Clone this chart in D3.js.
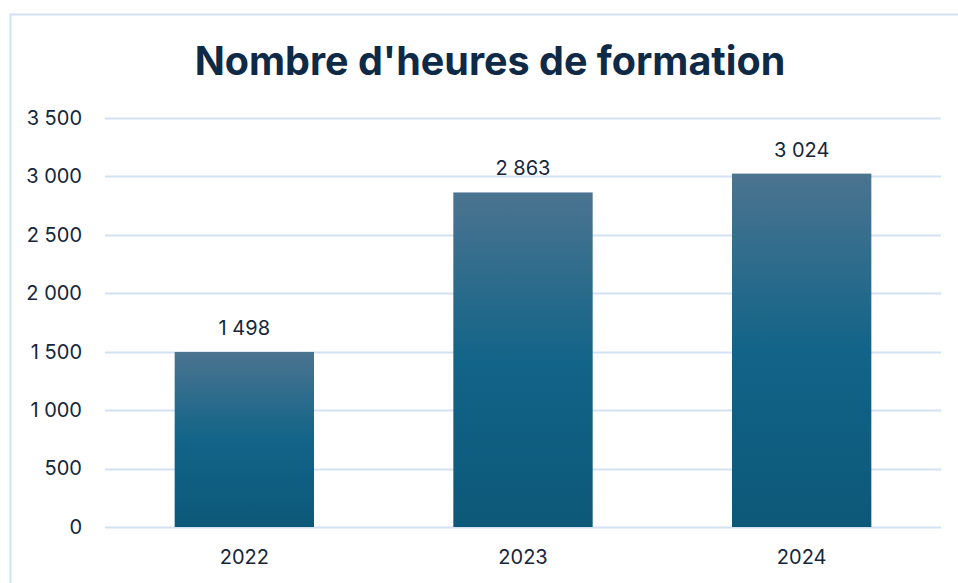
<!DOCTYPE html>
<html>
<head>
<meta charset="utf-8">
<script src="https://cdn.jsdelivr.net/npm/d3@7"></script>
<style>
  body { margin: 0; background: #fff; }
  svg { display: block; }
  text { font-family: Inter, "Open Sans", sans-serif; fill: #15263b; }
</style>
</head>
<body>
<svg id="chart" width="958" height="583"></svg>
<script>
// data
var years = ['2022', '2023', '2024'];
var hours = [1498, 2863, 3024];
var yTicks = [0, 500, 1000, 1500, 2000, 2500, 3000, 3500];

var width = 958, height = 583;
var margin = { top: 118, right: 17, bottom: 56, left: 105 };

var svg = d3.select('#chart');

// frame (left + top only are visible)
svg.append('path')
    .attr('d', 'M10.5,' + height + 'V14.5H' + width)
    .style('fill', 'none')
    .style('stroke', '#d3e2f3')
    .style('stroke-width', 2);

// gradient for bars
var grad = svg.append('defs').append('linearGradient')
    .attr('id', 'barGrad')
    .attr('x1', 0).attr('y1', 0).attr('x2', 0).attr('y2', 1);
grad.append('stop').attr('offset', '0%').attr('stop-color', '#4b7490');
grad.append('stop').attr('offset', '50%').attr('stop-color', '#126488');
grad.append('stop').attr('offset', '100%').attr('stop-color', '#0c5879');

var x = d3.scaleBand()
    .domain(years)
    .range([margin.left, width - margin.right])
    .paddingInner(0.5)
    .paddingOuter(0.25);

var y = d3.scaleLinear()
    .domain([0, 3500])
    .range([height - margin.bottom, margin.top]);

var fmt = function(d) { return d3.format(',')(d).replace(/,/g, ' '); };

// title
svg.append('text')
    .attr('x', 490)
    .attr('y', 75)
    .attr('text-anchor', 'middle')
    .style('font-size', '39.5px')
    .style('font-weight', 700)
    .style('fill', '#0f2a46')
    .text("Nombre d'heures de formation");

// gridlines
svg.append('g').selectAll('line').data(yTicks).enter().append('line')
    .attr('x1', margin.left)
    .attr('x2', width - margin.right)
    .attr('y1', function(d) { return Math.round(y(d)) + 0.5; })
    .attr('y2', function(d) { return Math.round(y(d)) + 0.5; })
    .style('stroke', '#d3e2f3')
    .style('stroke-width', 2);

// y axis labels
var yAxis = d3.axisLeft(y).tickValues(yTicks).tickFormat(fmt).tickSize(0).tickPadding(0);
var gy = svg.append('g')
    .attr('transform', 'translate(' + 82 + ',0)')
    .call(yAxis);
gy.select('.domain').remove();
gy.selectAll('text')
    .style('font-size', '20px')
    .style('fill', '#15263b')
    .style('font-family', 'Inter, sans-serif');

// bars
svg.append('g').selectAll('rect').data(hours).enter().append('rect')
    .attr('x', function(d, i) { return x(years[i]); })
    .attr('width', x.bandwidth())
    .attr('y', function(d) { return y(d); })
    .attr('height', function(d) { return y(0) - y(d); })
    .style('fill', 'url(#barGrad)');

// value labels
svg.append('g').selectAll('text').data(hours).enter().append('text')
    .attr('x', function(d, i) { return x(years[i]) + x.bandwidth() / 2; })
    .attr('y', function(d) { return y(d) - 17; })
    .attr('text-anchor', 'middle')
    .style('font-size', '20px')
    .text(fmt);

// x axis labels
var xAxis = d3.axisBottom(x).tickSize(0).tickPadding(0);
var gx = svg.append('g')
    .attr('transform', 'translate(0,' + (height - margin.bottom + 23) + ')')
    .call(xAxis);
gx.select('.domain').remove();
gx.selectAll('text')
    .style('font-size', '20px')
    .style('fill', '#15263b')
    .style('font-family', 'Inter, sans-serif');
</script>
</body>
</html>
